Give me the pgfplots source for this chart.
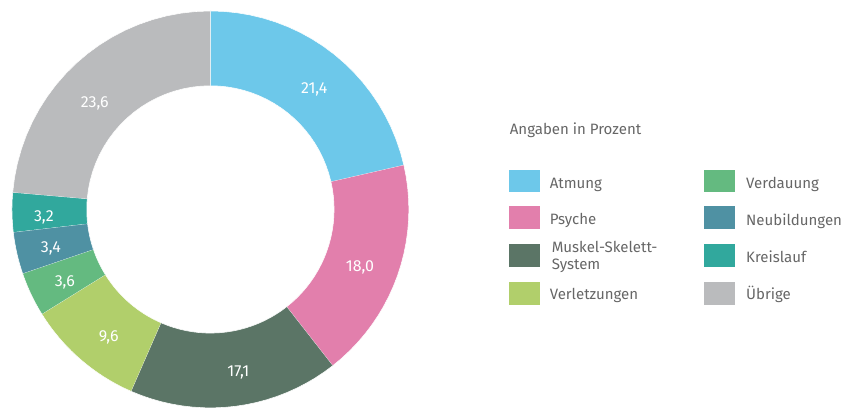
\documentclass[border=0pt]{standalone}
\usepackage{pgfplots}
\pgfplotsset{compat=1.18}
\usepackage{fontspec}
\setmainfont{Fira Sans}
\definecolor{cAtm}{HTML}{6DC8EA}
\definecolor{cPsy}{HTML}{E27FAC}
\definecolor{cMus}{HTML}{5B7566}
\definecolor{cVer}{HTML}{B1CF6B}
\definecolor{cVed}{HTML}{64BA80}
\definecolor{cNeu}{HTML}{4F91A3}
\definecolor{cKre}{HTML}{31A89D}
\definecolor{cUeb}{HTML}{BABBBD}
\definecolor{txt}{HTML}{666666}
\tikzset{
  lbl/.style={white, font=\fontsize{12}{14}\selectfont, inner sep=0pt, anchor=base},
  leg/.style={txt, font=\fontsize{11.3}{13}\selectfont, inner sep=0pt, anchor=base west, align=left},
}
\xdef\cum{0}
\newcommand\slice[2]{%
  \pgfmathsetmacro\sa{\cum}%
  \pgfmathsetmacro\sb{\cum+#1}%
  \edef\temp{\noexpand\addplot[fill=#2, draw=white, line width=0.4pt, domain=0:60, samples=61, forget plot]
    ({211+pr(x)*cos(pa(x,\sa,\sb))},{199+pr(x)*sin(pa(x,\sa,\sb))});}%
  \temp
  \xdef\cum{\sb}}
\begin{document}
\begin{tikzpicture}
\begin{axis}[
  width=631.5pt, height=306.75pt, scale only axis,
  xmin=0, xmax=842, ymin=0, ymax=409,
  hide axis, clip=false,
  declare function={
    pr(\t)=(\t<20.5)*199 + (\t>20.5)*(\t<40.5)*(199-75*(\t-20)/20) + (\t>40.5)*124;
    pa(\t,\a,\b)=90-360/99.9*((\t<20.5)*(\a+(\b-\a)*\t/20) + (\t>20.5)*(\t<40.5)*\b + (\t>40.5)*(\b-(\b-\a)*(\t-40)/20));
  },
]
\path (rel axis cs:0,0) rectangle (rel axis cs:1,1);
% donut data (percent)
\slice{21.4}{cAtm}
\slice{18.0}{cPsy}
\slice{17.1}{cMus}
\slice{9.6}{cVer}
\slice{3.6}{cVed}
\slice{3.4}{cNeu}
\slice{3.2}{cKre}
\slice{23.6}{cUeb}
% value labels
\node[lbl] at (axis cs:315,315.5) {21,4};
\node[lbl] at (axis cs:361,136.5) {18,0};
\node[lbl] at (axis cs:239,31.5) {17,1};
\node[lbl] at (axis cs:109,66.5) {9,6};
\node[lbl] at (axis cs:65,121.5) {3,6};
\node[lbl] at (axis cs:51,155.5) {3,4};
\node[lbl] at (axis cs:44,186.5) {3,2};
\node[lbl] at (axis cs:95,301.5) {23,6};
% legend
\node[leg] at (axis cs:511,274) {Angaben in Prozent};
\fill[cAtm] (axis cs:510,239) rectangle (axis cs:541,216);
\fill[cPsy] (axis cs:510,202) rectangle (axis cs:541,179);
\fill[cMus] (axis cs:510,164) rectangle (axis cs:541,141);
\fill[cVer] (axis cs:510,126) rectangle (axis cs:541,103);
\fill[cVed] (axis cs:706,239) rectangle (axis cs:737,216);
\fill[cNeu] (axis cs:706,202) rectangle (axis cs:737,179);
\fill[cKre] (axis cs:706,164) rectangle (axis cs:737,141);
\fill[cUeb] (axis cs:706,126) rectangle (axis cs:737,103);
\node[leg] at (axis cs:551,220) {Atmung};
\node[leg] at (axis cs:551,184) {Psyche};
\node[leg] at (axis cs:553,156.3) {Muskel-Skelett-};
\node[leg] at (axis cs:553,139) {System};
\node[leg] at (axis cs:551,108.3) {Verletzungen};
\node[leg] at (axis cs:748,220) {Verdauung};
\node[leg] at (axis cs:748,183) {Neubildungen};
\node[leg] at (axis cs:748,146) {Kreislauf};
\node[leg] at (axis cs:748,108.3) {Übrige};
\end{axis}
\end{tikzpicture}
\end{document}
